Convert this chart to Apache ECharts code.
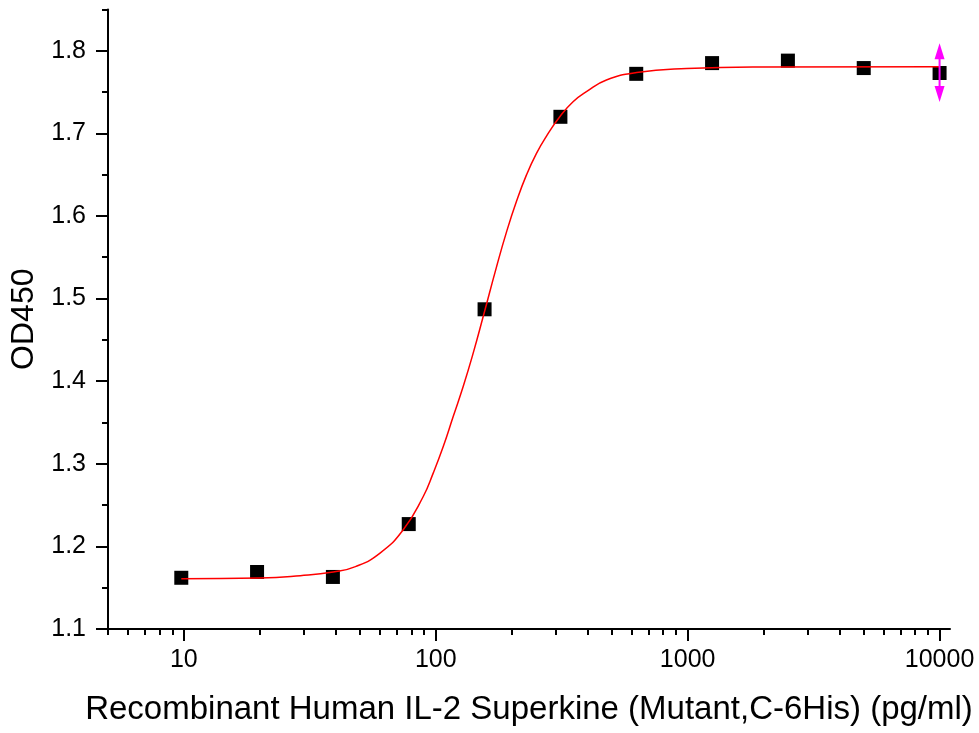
<!DOCTYPE html>
<html>
<head>
<meta charset="utf-8">
<script src="https://cdn.jsdelivr.net/npm/echarts@6/dist/echarts.min.js"></script>
<style>
html,body{margin:0;padding:0;background:#ffffff;}
#chart{width:979px;height:733px;}
</style>
</head>
<body>
<div id="chart"></div>
<script>
// ---- data ----
const concentrations = [9.77, 19.53, 39.06, 78.13, 156.25, 312.5, 625, 1250, 2500, 5000, 10000];
const od450 = [1.162, 1.169, 1.163, 1.227, 1.487, 1.720, 1.772, 1.785, 1.788, 1.779, 1.773];

const errorX = [10000];
const errorLow = [1.738];
const errorHigh = [1.809];

const fitX = [9.77, 20.1, 29.0, 39.2, 48.0, 60.1, 74.3, 89.2, 97.7, 107.1, 117.3, 128.5, 140.8, 154.3, 174.4, 191.0, 209.2, 229.2, 251.1, 275.2, 310.7, 350.8, 396.4, 475.9, 627.5, 990, 1928, 10000];
const fitY = [1.1609, 1.1617, 1.1645, 1.1690, 1.1755, 1.1919, 1.2201, 1.2604, 1.2887, 1.3209, 1.3572, 1.3935, 1.4339, 1.4782, 1.5387, 1.5807, 1.6177, 1.6497, 1.6757, 1.6967, 1.7200, 1.7383, 1.7504, 1.7645, 1.7736, 1.7784, 1.7803, 1.7806];

const xTickValues = [10, 100, 1000, 10000];
const xMinorTickValues = [5, 6, 7, 8, 9, 20, 30, 40, 50, 60, 70, 80, 90, 200, 300, 400, 500, 600, 700, 800, 900, 2000, 3000, 4000, 5000, 6000, 7000, 8000, 9000];
const yTickValues = [1.1, 1.2, 1.3, 1.4, 1.5, 1.6, 1.7, 1.8];
const yMinorTickValues = [1.15, 1.25, 1.35, 1.45, 1.55, 1.65, 1.75, 1.85];

const xTitle = 'Recombinant Human IL-2 Superkine (Mutant,C-6His) (pg/ml)';
const yTitle = 'OD450';

// ---- chart ----
const FONT = 'Liberation Sans, Arial, sans-serif';
const xMin = 5, xMax = 11000, yMin = 1.1, yMax = 1.85;
const L10 = v => Math.log10(v);

const chart = echarts.init(document.getElementById('chart'), null, {renderer: 'canvas'});

const option = {
  animation: false,
  backgroundColor: '#ffffff',
  grid: {left: 108, right: 29, top: 9.4, bottom: 104, containLabel: false, outerBoundsMode: 'none'},
  xAxis: [
    {
      type: 'log', logBase: 10, min: xMin, max: xMax, position: 'bottom',
      axisLine: {show: true, onZero: false, lineStyle: {color: '#000', width: 2}},
      axisTick: {show: false}, axisLabel: {show: false},
      splitLine: {show: false}, minorTick: {show: false},
      name: xTitle, nameLocation: 'middle', nameGap: 64,
      nameTextStyle: {fontFamily: FONT, fontSize: 33, color: '#000'}
    },
    {
      type: 'value', min: L10(xMin), max: L10(xMax), position: 'bottom',
      axisLine: {show: false},
      axisTick: {show: true, inside: false, length: 12, customValues: xTickValues.map(L10), lineStyle: {color: '#000', width: 2}},
      axisLabel: {show: true, customValues: xTickValues.map(L10), margin: 19,
        formatter: v => String(Math.round(Math.pow(10, v))),
        fontFamily: FONT, fontSize: 25, color: '#000'},
      splitLine: {show: false}
    },
    {
      type: 'value', min: L10(xMin), max: L10(xMax), position: 'bottom',
      axisLine: {show: false},
      axisTick: {show: true, inside: false, length: 6, customValues: xMinorTickValues.map(L10), lineStyle: {color: '#000', width: 2}},
      axisLabel: {show: false},
      splitLine: {show: false}
    }
  ],
  yAxis: [
    {
      type: 'value', min: yMin, max: yMax, position: 'left',
      axisLine: {show: true, onZero: false, lineStyle: {color: '#000', width: 2}},
      axisTick: {show: true, inside: false, length: 12, customValues: yTickValues, lineStyle: {color: '#000', width: 2}},
      axisLabel: {show: true, customValues: yTickValues, margin: 22,
        formatter: v => v.toFixed(1),
        fontFamily: FONT, fontSize: 25, color: '#000'},
      splitLine: {show: false},
      name: yTitle, nameLocation: 'middle', nameGap: 68, nameRotate: 90,
      nameTextStyle: {fontFamily: FONT, fontSize: 32, color: '#000'}
    },
    {
      type: 'value', min: yMin, max: yMax, position: 'left',
      axisLine: {show: false},
      axisTick: {show: true, inside: false, length: 6, customValues: yMinorTickValues, lineStyle: {color: '#000', width: 2}},
      axisLabel: {show: false},
      splitLine: {show: false}
    }
  ],
  series: [
    {
      type: 'scatter', xAxisIndex: 0, yAxisIndex: 0, z: 2,
      symbol: 'rect', symbolSize: 14,
      itemStyle: {color: '#000000', opacity: 1},
      data: concentrations.map((x, i) => [x, od450[i]])
    },
    {
      type: 'line', xAxisIndex: 0, yAxisIndex: 0, z: 3,
      showSymbol: false, symbol: 'none', smooth: 0.5,
      lineStyle: {color: '#ff0000', width: 1.5},
      data: fitX.map((x, i) => [x, fitY[i]])
    },
    {
      type: 'custom', xAxisIndex: 0, yAxisIndex: 0, z: 4,
      encode: {x: 0, y: [1, 2]},
      data: errorX.map((x, i) => [x, errorLow[i], errorHigh[i]]),
      renderItem: function (params, api) {
        const x = api.value(0);
        const top = api.coord([x, api.value(2)]);
        const bot = api.coord([x, api.value(1)]);
        const hw = 5, ah = 16;
        return {
          type: 'group',
          children: [
            {type: 'line', shape: {x1: top[0], y1: top[1] + ah / 2, x2: bot[0], y2: bot[1] - ah / 2},
              style: {stroke: '#ff00ff', lineWidth: 2}},
            {type: 'polygon', shape: {points: [[top[0], top[1]], [top[0] - hw, top[1] + ah], [top[0] + hw, top[1] + ah]]},
              style: {fill: '#ff00ff'}},
            {type: 'polygon', shape: {points: [[bot[0], bot[1]], [bot[0] - hw, bot[1] - ah], [bot[0] + hw, bot[1] - ah]]},
              style: {fill: '#ff00ff'}}
          ]
        };
      }
    }
  ]
};
chart.setOption(option);
</script>
</body>
</html>
